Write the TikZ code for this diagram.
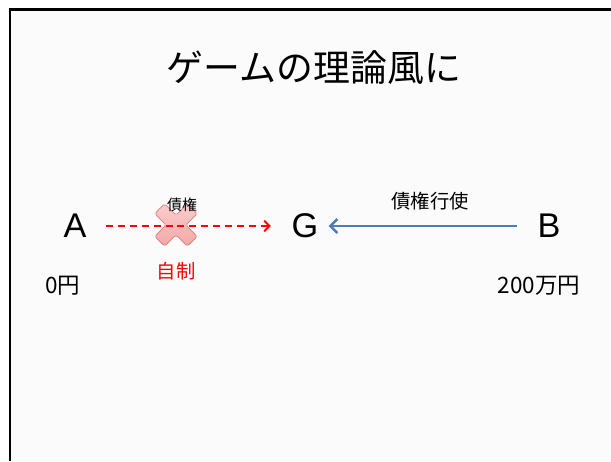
\documentclass[tikz,border=0pt]{standalone}
\usepackage{fontspec}
\setmainfont{Noto Sans CJK JP}
\newfontfamily\arialfont{Liberation Sans}
\usetikzlibrary{arrows.meta}
\definecolor{bgpaper}{HTML}{FBFBFC}
\definecolor{usedblue}{HTML}{4A7EBB}
\definecolor{crosspink}{HTML}{F4A6A6}
\definecolor{crossedge}{HTML}{E07C7C}
\tikzset{
  player/.style={inner sep=0pt,font=\arialfont\fontsize{19.5}{20}\selectfont},
  money/.style={inner sep=0pt,font=\fontsize{12.8}{14}\selectfont},
  claim/.style={red,line width=1.1pt,dash pattern=on 4pt off 2.8pt,-{Straight Barb[length=3pt,width=6pt]}},
  exercise/.style={usedblue,line width=1.4pt,-{Straight Barb[length=4pt,width=8pt]}}
}

\begin{document}
\begin{tikzpicture}[x=0.02cm,y=-0.02cm]
        \useasboundingbox (0,0) rectangle (611,461);
        \fill[bgpaper] (10,9) rectangle (611,461);
        \draw[line width=1.7pt] (10,461) -- (10,9) -- (611,9);
        \node (T) at (314,68) {\fontsize{21}{24}\selectfont ゲームの理論風に};
        \node[player] (A) at (75,226) {A};
        \node[player] (G) at (305,226) {G};
        \node[player] (B) at (549,226) {B};
        % the cancelled claim
        \begin{scope}[shift={(176,225)},rotate=45]
        \draw[crossedge,top color=crosspink!55,bottom color=crosspink,rounded corners=1pt]
          (7,7) -- (23,7) -- (23,-7) -- (7,-7) -- (7,-23) -- (-7,-23) -- (-7,-7) -- (-23,-7)
          -- (-23,7) -- (-7,7) -- (-7,23) -- (7,23) -- cycle;
        \end{scope}
        \draw[claim,shorten <=0.38cm,shorten >=0.41cm] (A) -- (G);
        \draw[exercise,shorten <=0.40cm,shorten >=0.20cm] (B) -- (G);
        \node[inner sep=0pt,font=\fontsize{8.5}{10}\selectfont] (C) at (182,205) {債権};
        \node[inner sep=0pt,red,font=\fontsize{11}{12}\selectfont] (R) at (176,271) {自制};
        \node[inner sep=0pt,font=\fontsize{11}{12}\selectfont] (E) at (430,201) {債権行使};
        \node[money] (MA) at (63,286) {0円};
        \node[money] (MB) at (539,286) {200万円};
    \end{tikzpicture}
\end{document}
